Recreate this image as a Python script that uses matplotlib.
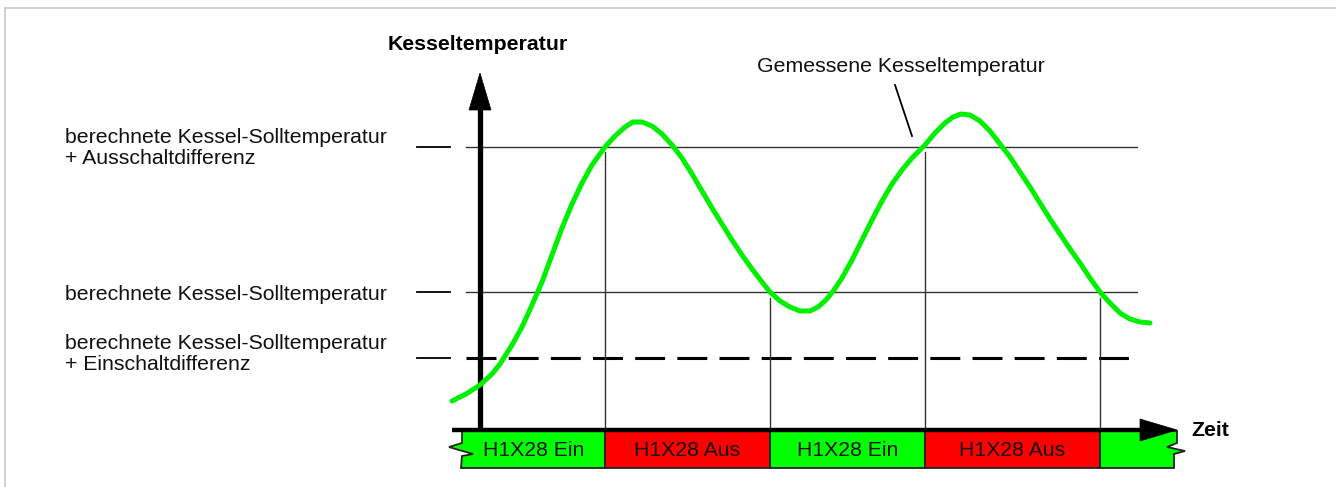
import matplotlib.pyplot as plt
from matplotlib.patches import Polygon

plt.rcParams['font.family'] = ['Liberation Sans', 'DejaVu Sans']

# gemessene Kesseltemperatur (Zeit, Temperatur) in Bildpunkten
curve_x = [452, 466, 480, 492, 500, 512, 522, 532, 542, 552, 562, 572, 582, 592,
           605, 615, 625, 633, 642, 652, 662, 672, 682, 692, 702, 712, 722, 732,
           742, 752, 762, 770, 780, 790, 800, 810, 818, 826, 834, 842, 852, 862,
           872, 882, 892, 902, 912, 925, 935, 945, 953, 961, 970, 980, 990, 1000,
           1010, 1020, 1030, 1040, 1050, 1060, 1070, 1080, 1090, 1100, 1110, 1120,
           1130, 1140, 1150]
curve_y = [401, 394, 385, 374, 364, 345, 327, 305, 282, 255, 228, 204, 183, 165,
           147, 136, 127, 122, 122, 126, 134, 145, 158, 174, 191, 208, 224, 240,
           255, 269, 282, 292, 301, 307, 311, 311, 307, 300, 290, 278, 260, 240,
           220, 201, 184, 170, 158, 145, 133, 123, 117, 114, 115, 121, 131, 144,
           157, 172, 187, 203, 219, 234, 249, 263, 278, 292, 303, 313, 319, 322,
           323]

# Schaltschwellen
level_y = [147, 292, 358]
level_labels = ["berechnete Kessel-Solltemperatur\n+ Ausschaltdifferenz",
                "berechnete Kessel-Solltemperatur",
                "berechnete Kessel-Solltemperatur\n+ Einschaltdifferenz"]
level_dashed = [False, False, True]

# Schaltzeitpunkte und Zustaende H1X28
switch_x = [462, 605, 770, 925, 1100, 1175]
switch_start_y = [152, 298, 152, 298]
state_labels = ["H1X28 Ein", "H1X28 Aus", "H1X28 Ein", "H1X28 Aus", ""]
state_colors = ["#00ff00", "#ff0000", "#00ff00", "#ff0000", "#00ff00"]

fig = plt.figure(figsize=(13.36, 4.87), dpi=100)
ax = fig.add_axes([0, 0, 1, 1])
ax.set_xlim(0, 1336)
ax.set_ylim(487, 0)
ax.axis('off')

# Rahmen oben/links
ax.plot([5, 1336], [8, 8], color='#c8c8c8', lw=1.2)
ax.plot([5, 5], [8, 487], color='#c8c8c8', lw=1.2)

# Schwellenlinien + Beschriftung
label_y = [148, 295, 354]
for y, lab, dashed, ly in zip(level_y, level_labels, level_dashed, label_y):
    if dashed:
        ax.plot([466, 1137], [y, y], color='black', lw=2.2,
                dashes=(9.8, 4.0))
    else:
        ax.plot([466, 1137], [y, y], color='#333333', lw=1.0)
    ax.plot([417, 450], [y, y], color='black', lw=1.3)
    ax.text(65, ly, lab, fontsize=15.3, va='center', ha='left',
            linespacing=1.12, color='#111111')

# senkrechte Linien an den Schaltpunkten
for x, y0 in zip(switch_x[1:-1], switch_start_y):
    ax.plot([x, x], [y0, 432], color='#333333', lw=1.0)

# Zustandsbalken
bar_top, bar_bot = 431, 468
for i, (lab, col) in enumerate(zip(state_labels, state_colors)):
    x0, x1 = switch_x[i], switch_x[i + 1]
    if i == 0:
        pts = [(x0, bar_top), (x1, bar_top), (x1, bar_bot), (x0 - 1, bar_bot),
               (x0, 456), (x0 + 11, 454), (x0 - 3, 450), (x0 - 13, 447),
               (x0, 443)]
    elif i == len(state_labels) - 1:
        pts = [(x0, bar_top), (x1 + 2, bar_top), (x1 + 2, 443), (x1 - 8, 447),
               (x1 + 10, 451), (x1 - 1, 454), (x1 - 1, bar_bot), (x0, bar_bot)]
    else:
        pts = [(x0, bar_top), (x1, bar_top), (x1, bar_bot), (x0, bar_bot)]
    ax.add_patch(Polygon(pts, closed=True, facecolor=col, edgecolor='#222222',
                         lw=1.3, zorder=3))
    if lab:
        ax.text((x0 + x1) / 2, 450, lab, fontsize=15.3, ha='center',
                va='center', color='#111111', zorder=4)

# Zeitachse
ax.plot([452, 1142], [429.5, 429.5], color='black', lw=3.2, zorder=5,
        solid_capstyle='butt')
ax.add_patch(Polygon([(1140, 419), (1177, 430), (1140, 441)], closed=True,
                     facecolor='black', edgecolor='black', lw=0.5, zorder=5))
ax.text(1191, 430, "Zeit", fontsize=15.3, fontweight='bold', ha='left',
        va='center')

# Temperaturachse
ax.plot([480, 480], [430, 108], color='black', lw=3.8, zorder=5,
        solid_capstyle='butt')
ax.add_patch(Polygon([(469, 110), (480, 73), (491, 110)], closed=True,
                     facecolor='black', edgecolor='black', lw=0.5, zorder=5))
ax.text(388, 44, "Kesseltemperatur", fontsize=15.3, fontweight='bold',
        ha='left', va='center')

# Kurve
ax.plot(curve_x, curve_y, color='#00f000', lw=3.6, zorder=6,
        solid_capstyle='round', solid_joinstyle='round')

# Hinweis auf Kurve
ax.text(757, 66, "Gemessene Kesseltemperatur", fontsize=15.3, ha='left',
        va='center', color='#111111')
ax.plot([895, 912], [85, 136], color='black', lw=1.3)

fig.savefig('out.png', dpi=100)
